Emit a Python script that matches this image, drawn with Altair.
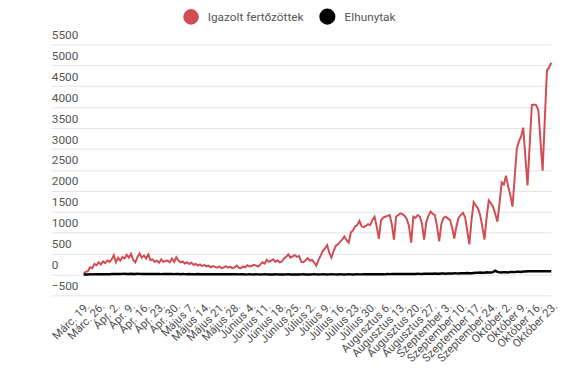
import json
import altair as alt
import pandas as pd

tick_labels = ["Márc. 19.", "Márc. 26.", "Ápr. 2.", "Ápr. 9.", "Ápr. 16.", "Ápr. 23.", "Ápr. 30.",
               "Május 7.", "Május 14.", "Május 21.", "Május 28.", "Június 4.", "Június 11.",
               "Június 18.", "Június 25.", "Július 2.", "Július 9.", "Július 16.", "Július 23.",
               "Július 30.", "Augusztus 6.", "Augusztus 13.", "Augusztus 20.", "Augusztus 27.",
               "Szeptember 3.", "Szeptember 10.", "Szeptember 17.", "Szeptember 24.",
               "Október 2.", "Október 9.", "Október 16.", "Október 23."]

series_names = ["Igazolt fertőzöttek", "Elhunytak"]
series_colors = ["#d24c53", "#000000"]

confirmed = [
    30, 60, 80, 170, 150, 250, 220, 290, 240, 310, 270, 330, 300, 360, 460, 290, 400, 330, 420, 380, 470,
    400, 490, 350, 290, 420, 500, 400, 450, 380, 480, 340, 360, 300, 330, 280, 360, 300, 320, 330, 290,
    380, 300, 410, 330, 290, 310, 260, 290, 250, 280, 230, 250, 210, 240, 200, 230, 190, 210, 170, 200,
    180, 160, 190, 150, 170, 200, 160, 180, 150, 170, 210, 160, 150, 190, 170, 220, 190, 200, 230, 210,
    190, 240, 290, 260, 350, 300, 330, 360, 300, 340, 290, 310, 380, 420, 480, 400, 430, 460, 420, 440,
    300, 290, 340, 390, 330, 350, 280, 210, 350, 450, 560, 620, 700, 520, 400, 560, 680, 720, 780, 830,
    910, 820, 760, 1000, 1050, 1150, 1180, 1280, 1150, 1130, 1160, 1200, 1180, 1300, 1380, 1150, 850,
    1300, 1360, 1380, 1400, 1420, 1200, 830, 1380, 1420, 1460,
    1440, 1400, 1320, 1150, 760, 1380, 1350, 1420, 1380, 1220, 830, 1250, 1400, 1500, 1450, 1420, 1150,
    790, 1200, 1350, 1380, 1340, 1300, 1120, 860, 1150, 1350, 1420, 1470, 1380, 1050, 720, 1300, 1730,
    1650, 1580, 1420, 1150, 830, 1350, 1770, 1700, 1620, 1450, 1260, 1700, 2200, 2150, 2360, 2100, 1900,
    1620, 2300, 3000, 3180, 3300, 3510, 2800, 2130, 3100, 4050, 4060, 4050, 3930, 3200, 2480, 3700, 4880,
    4950, 5060,
]

deaths = [
    0, 1, 0, 2, 1, 3, 2, 4, 3, 5, 4, 6, 5, 8,
    10, 9, 12, 11, 13, 14, 12, 10, 15, 12, 11, 14, 13, 10, 12, 9, 11, 10, 12, 8, 10, 9, 7, 8, 10, 9, 8,
    9, 7, 8, 10, 6, 8, 7, 5, 9, 6, 7, 5, 8, 6, 4, 5, 6, 3, 5, 4, 6, 3, 4, 5, 2, 4, 3, 5, 2, 3,
    2, 1, 3, 2, 0, 1, 2, 1, 0, 2, 1, 0, 1, 2, 1, 0, 1, 0, 2, 1, 0, 1, 0, 1, 2, 0, 1, 0, 1, 0,
    1, 2, 0, 1, 0, 1, 2, 1, 0, 1, 2, 1, 0, 1, 2, 1, 1, 0, 2, 1, 0, 1, 2, 1, 0, 1, 2, 1, 1, 2,
    3, 2, 4, 3, 5, 4, 6, 5, 4, 6, 8, 7, 9, 8, 10, 9, 8, 10, 12, 11, 10, 13, 12, 11, 14, 13, 12, 15,
    14, 16, 18, 15, 20, 17, 16, 22, 20, 18, 25, 22, 20, 28, 25, 24, 30, 27, 26, 32, 30, 28, 35, 40, 38,
    45, 42, 40, 50, 48, 46, 55, 90, 60, 50, 45, 55, 52, 48, 60, 58, 55, 62, 65, 60, 70, 68, 75,
]
deaths = deaths[:len(confirmed)]
while len(deaths) < len(confirmed):
    deaths.append(deaths[-1])

n = len(confirmed)
days = list(range(n))
df = pd.DataFrame({
    "day": days + days,
    "value": confirmed + deaths,
    "series": [series_names[0]] * n + [series_names[1]] * n,
})

tick_vals = list(range(0, n, 7))
label_expr = json.dumps(tick_labels, ensure_ascii=False) + "[round(datum.value / 7)]"

x_enc = alt.X("day:Q",
              scale=alt.Scale(domain=[-15, n - 1], nice=False, zero=False),
              axis=alt.Axis(values=tick_vals, labelExpr=label_expr, labelAngle=-45,
                            labelOverlap=False, labelBound=False, domain=False, ticks=False,
                            tickSize=0, grid=False, title=None, labelFontSize=11.5,
                            labelColor="#505050", labelPadding=5))
y_enc = alt.Y("value:Q",
              scale=alt.Scale(domain=[-500, 5500], nice=False, zero=False),
              axis=alt.Axis(values=list(range(-500, 5501, 500)), format="d", title=None,
                            domain=False, ticks=False, tickSize=0, labelAlign="left",
                            labelBaseline="bottom", labelPadding=0, labelOffset=-3,
                            gridColor="#e3e3e3", gridWidth=1, labelFontSize=12,
                            labelColor="#555555", labelBound=False))
legend = alt.Legend(title=None, orient="none", direction="horizontal",
                    legendX=134, legendY=-37, symbolType="circle", symbolSize=190,
                    labelFontSize=12, labelColor="#555555",
                    columnPadding=11, labelOffset=9, padding=0)
c_enc = alt.Color("series:N", scale=alt.Scale(domain=series_names, range=series_colors),
                  legend=legend)

base = alt.Chart(df).encode(x=x_enc, y=y_enc, color=c_enc)

legend_points = base.mark_point(filled=True, size=190, opacity=1).transform_filter("false")

lines = base.mark_line(interpolate="linear").encode(
    strokeWidth=alt.StrokeWidth("series:N",
                                scale=alt.Scale(domain=series_names, range=[2, 2.5]),
                                legend=None),
)

chart = alt.layer(legend_points, lines).properties(
    width=508, height=255,
    autosize=alt.AutoSizeParams(type="none"),
    padding={"left": 44, "top": 34, "right": 16, "bottom": 80},
).configure(font="Roboto").configure_view(stroke=None)

chart.save("out.html", embed_options={"renderer": "svg", "actions": False})
